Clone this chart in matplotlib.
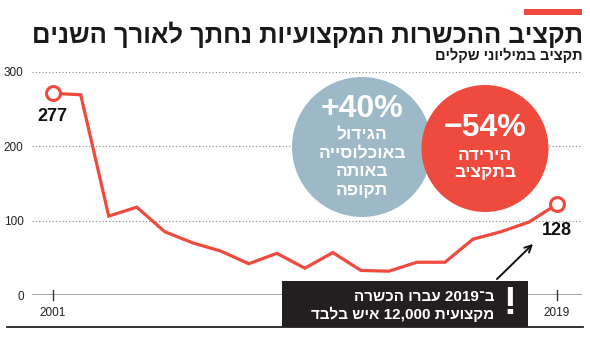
import re
import matplotlib
matplotlib.use("Agg")
import matplotlib.pyplot as plt
from matplotlib.patches import Circle, Rectangle
from matplotlib.lines import Line2D

# ---------------- data ----------------
years = list(range(2001, 2020))
budget = [271, 269, 106, 118, 85, 70, 59, 42, 56, 36, 57, 33, 32, 44, 44, 75, 85, 98, 122]
yticks = [0, 100, 200, 300]
xtick_years = [2001, 2019]
end_labels = ["277", "128"]

title = "תקציב ההכשרות המקצועיות נחתך לאורך השנים"
subtitle = "תקציב במיליוני שקלים"
blue_big = "+40%"
blue_lines = ["הגידול", "באוכלוסייה", "באותה", "תקופה"]
red_big = "−54%"
red_lines = ["הירידה", "בתקציב"]
box_lines = ["ב־2019 עברו הכשרה", "מקצועית 12,000 איש בלבד"]

RED = "#EF4A3E"
BLUE = "#9DB8C7"
DARK = "#231F20"
FONT = ["Liberation Sans", "DejaVu Sans"]


def rtl(s):
    runs = re.findall(r'[0-9][0-9,.]*[0-9]|[0-9]|[^0-9]+', s)
    out = []
    for r in reversed(runs):
        out.append(r if r[0].isdigit() else r[::-1])
    return "".join(out)


W, H = 590, 339
fig = plt.figure(figsize=(W / 100, H / 100), dpi=100)

# main axes: pixel geometry
x_left_px, x_right_px = 32, 582
y_top_px, y_bot_px = 71.7, 295
ax = fig.add_axes([x_left_px / W, (H - y_bot_px) / H,
                   (x_right_px - x_left_px) / W, (y_bot_px - y_top_px) / H])
pxy = (557 - 52.7) / 18.0
ax.set_xlim(2001 - (52.7 - x_left_px) / pxy, 2019 + (x_right_px - 557) / pxy)
ax.set_ylim(0, 300)
for s in ax.spines.values():
    s.set_visible(False)
ax.set_facecolor("none")
ax.set_yticks(yticks)
ax.set_yticklabels([str(v) for v in yticks], fontsize=8.5, color="#222222", family=FONT)
ax.tick_params(axis="y", length=0, pad=6)
ax.set_xticks(xtick_years)
ax.set_xticklabels([str(v) for v in xtick_years], fontsize=8.5, color="#222222", family=FONT)
ax.tick_params(axis="x", length=0, pad=9)
for v in yticks[1:]:
    ax.axhline(v, color="#888888", lw=0.8, ls=(0, (1, 2)), zorder=1)
ax.axhline(0, color="#8a8a8a", lw=1.8, zorder=2)
for yv in xtick_years:
    ax.plot([yv, yv], [-7, 7], color="#333333", lw=1, clip_on=False, zorder=3)

ax.plot(years, budget, color=RED, lw=2.3, zorder=4, clip_on=False, solid_joinstyle="miter")
ax.plot([years[0], years[-1]], [budget[0], budget[-1]], ls="none", marker="o",
        ms=10, mfc="white", mec=RED, mew=2.2, zorder=5, clip_on=False)

ax.annotate(end_labels[0], (years[0], budget[0]), xytext=(0, -17), textcoords="offset points",
            ha="center", va="center", fontsize=13, fontweight="bold", color="#111111", family=FONT)
ax.annotate(end_labels[1], (years[-1], budget[-1]), xytext=(0, -19), textcoords="offset points",
            ha="center", va="center", fontsize=13, fontweight="bold", color="#111111", family=FONT)

# overlay axes in pixel coordinates
ov = fig.add_axes([0, 0, 1, 1])
ov.set_xlim(0, W)
ov.set_ylim(H, 0)
ov.axis("off")
ov.set_facecolor("none")

# header
ov.add_patch(Rectangle((524, 9), 58, 6, color=RED, lw=0))
t_title = ov.text(583, 35, rtl(title), ha="right", va="center", fontsize=20, fontweight="bold",
                  color="#1a1a1a", family=FONT)
t_sub = ov.text(583, 55, rtl(subtitle), ha="right", va="center", fontsize=10.5, fontweight="bold",
                color="#1a1a1a", family=FONT)

# circles
ov.add_patch(Circle((362, 147), 70, color=BLUE, lw=0, zorder=2))
ov.add_patch(Circle((485, 148.5), 63.5, color=RED, lw=0, zorder=3))
ov.text(362, 109, blue_big, ha="center", va="center", fontsize=23, fontweight="bold",
        color="white", family=FONT, zorder=4)
for i, t in enumerate(blue_lines):
    ov.text(362, 135 + i * 18.5, rtl(t), ha="center", va="center", fontsize=12.5,
            fontweight="bold", color="white", family=FONT, zorder=4)
ov.text(485, 128, red_big, ha="center", va="center", fontsize=23, fontweight="bold",
        color="white", family=FONT, zorder=4)
for i, t in enumerate(red_lines):
    ov.text(485, 155 + i * 17.5, rtl(t), ha="center", va="center", fontsize=12.5,
            fontweight="bold", color="white", family=FONT, zorder=4)

# black box
ov.add_patch(Rectangle((282, 281), 246, 46, color=DARK, lw=0, zorder=5))
ov.text(510, 304, "!", ha="center", va="center", fontsize=28, fontweight="bold",
        color="white", family=FONT, zorder=6)
for i, t in enumerate(box_lines):
    ov.text(494, 297 + i * 17.5, rtl(t), ha="right", va="center", fontsize=11,
            fontweight="bold", color="white", family=FONT, zorder=6)
ov.annotate("", xy=(535, 242), xytext=(495, 281),
            arrowprops=dict(arrowstyle="->", color="#111111", lw=1.4, mutation_scale=12),
            zorder=6)

# bottom rule
fig.add_artist(Line2D([7 / W, 583 / W], [(H - 327) / H] * 2, color="#222222", lw=1.3))

# size the header texts so they span the available width as real text
fig.canvas.draw()
rend = fig.canvas.get_renderer()
for t, width in ((t_title, 583 - 30), (t_sub, 583 - 430)):
    bb = t.get_window_extent(rend)
    if bb.width > width:
        t.set_fontsize(t.get_fontsize() * width / bb.width)

fig.savefig("out.png", dpi=100)
